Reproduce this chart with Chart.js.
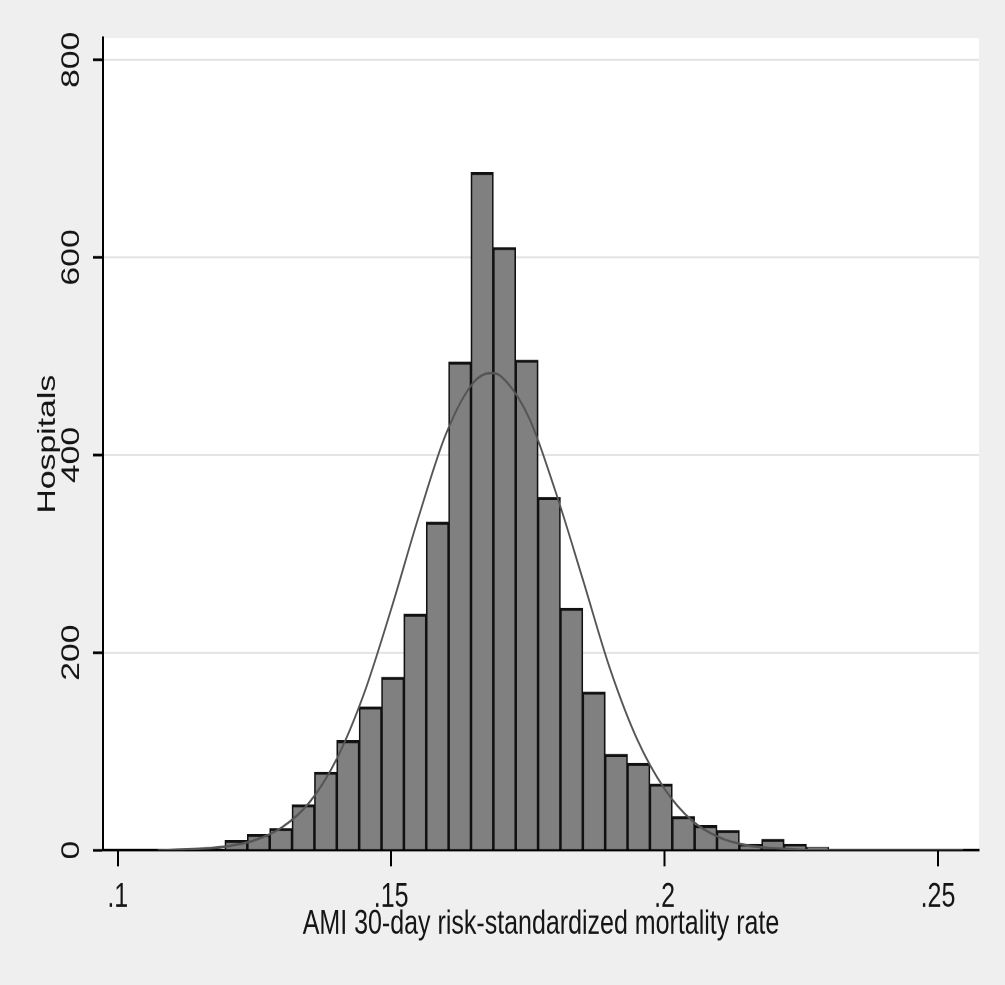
<!DOCTYPE html>
<html>
<head>
<meta charset="utf-8">
<script src="https://cdn.jsdelivr.net/npm/chart.js@4.4.1/dist/chart.umd.min.js"></script>
<style>
html, body { margin: 0; padding: 0; background: #efefef; }
#wrap { width: 1005px; height: 985px; overflow: hidden; }
#chart { display: block; transform: scaleY(1.3493); transform-origin: 0 0; }
</style>
</head>
<body>
<div id="wrap"><canvas id="chart" width="1005" height="730"></canvas></div>
<script>
// histogram bins (centres) and hospital counts
const binCenters = [0.10938, 0.11347, 0.11756, 0.12165, 0.12574, 0.12983, 0.13392, 0.13801, 0.14210,
    0.14619, 0.15028, 0.15437, 0.15846, 0.16255, 0.16664, 0.17073, 0.17482, 0.17891, 0.18300,
    0.18709, 0.19118, 0.19527, 0.19936, 0.20345, 0.20754, 0.21163, 0.21572, 0.21981, 0.22390,
    0.22799, 0.23208, 0.23617, 0.24026, 0.24435, 0.24844, 0.25253];
const hospitals = [1, 0, 0, 10, 16, 22, 46, 79, 111, 145, 175, 239, 332, 494, 686, 610, 496, 357,
    245, 160, 97, 88, 67, 34, 25, 20, 6, 11, 6, 3, 1, 0, 1, 0, 0, 1];

// overlaid normal curve
const curveX = [0.1073, 0.110, 0.115, 0.120, 0.125, 0.130, 0.135, 0.140, 0.145, 0.150, 0.155, 0.160,
    0.165, 0.1682, 0.170, 0.175, 0.180, 0.185, 0.190, 0.195, 0.200, 0.205, 0.210, 0.215, 0.220,
    0.230, 0.240, 0.2546];
const curveY = [0, 0.5, 1.5, 4, 10, 23, 48, 92, 158, 244, 337, 421, 473, 483, 480, 440, 364, 275,
    184, 112, 62, 30, 13, 5, 2, 0, 0, 0];

const xTickValues = [0.1, 0.15, 0.2, 0.25];
const xTickLabels = [".1", ".15", ".2", ".25"];
const yTickValues = [0, 200, 400, 600, 800];
const xTitle = "AMI 30-day risk-standardized mortality rate";
const yTitle = "Hospitals";

const fontFamily = "'Liberation Sans', Arial, sans-serif";
const textColor = "#151515";

const plotBackground = {
    id: "plotBackground",
    beforeDraw(chart){
        const {ctx, chartArea, width, height} = chart;
        ctx.save();
        ctx.fillStyle = "#efefef";
        ctx.fillRect(0, 0, width, height);
        ctx.fillStyle = "#ffffff";
        ctx.fillRect(chartArea.left, chartArea.top,
            chartArea.right - chartArea.left, chartArea.bottom - chartArea.top);
        ctx.restore();
    }
};

new Chart(document.getElementById("chart"), {
    type: "bar",
    data: {
        datasets: [
            {
                type: "line",
                data: curveX.map((x, i) => ({x: x, y: curveY[i]})),
                borderColor: "#555",
                borderWidth: 1.8,
                pointRadius: 0,
                tension: 0.4,
                cubicInterpolationMode: "monotone",
                fill: false,
                order: 0
            },
            {
                type: "bar",
                data: binCenters.map((x, i) => ({x: x, y: hospitals[i]})),
                backgroundColor: "#808080",
                borderColor: "#111",
                borderWidth: {top: 2.2, left: 1.6, right: 1.6, bottom: 0},
                categoryPercentage: 1,
                barPercentage: 1,
                order: 1
            }
        ]
    },
    options: {
        responsive: false,
        devicePixelRatio: 2,
        animation: false,
        layout: {padding: {left: 33, right: 26, top: 28.2, bottom: 30}},
        plugins: {legend: {display: false}, tooltip: {enabled: false}},
        scales: {
            x: {
                type: "linear",
                min: 0.0973,
                max: 0.2575,
                offset: false,
                afterBuildTicks: s => { s.ticks = xTickValues.map(v => ({value: v})); },
                afterFit: s => { s.height = 69.9; },
                grid: {offset: false, drawOnChartArea: false, tickLength: 12, tickColor: "#000", tickWidth: 2},
                border: {color: "#000", width: 2},
                ticks: {
                    padding: 8, color: textColor, autoSkip: false, minRotation: 0, maxRotation: 0,
                    font: {family: fontFamily, size: 25},
                    callback: (v, i) => xTickLabels[i]
                },
                title: {display: true, text: xTitle, color: textColor, padding: 0,
                    font: {family: fontFamily, size: 25}}
            },
            y: {
                min: 0,
                max: 822,
                afterBuildTicks: s => { s.ticks = yTickValues.map(v => ({value: v})); },
                afterFit: s => { s.width = 70; },
                grid: {color: "#e4e4e4", lineWidth: 1.5, tickLength: 10, tickColor: "#000", tickWidth: 2},
                border: {color: "#000", width: 2},
                ticks: {
                    padding: 0, color: textColor, minRotation: 90, maxRotation: 90, crossAlign: "center",
                    font: {family: fontFamily, size: 25},
                    callback: v => String(v)
                },
                title: {display: true, text: yTitle, color: textColor, padding: 0,
                    font: {family: fontFamily, size: 25}}
            }
        }
    },
    plugins: [plotBackground]
});
</script>
</body>
</html>
